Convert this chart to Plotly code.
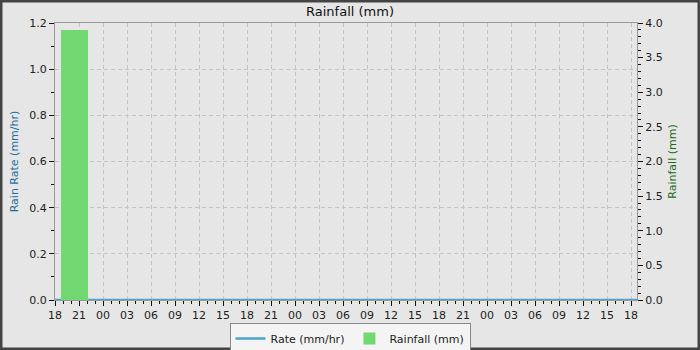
import plotly.graph_objects as go

# ---- data ----
rate_times = ["2024-01-01 18:00", "2024-01-04 18:45"]
rate_values = [0.0, 0.0]

rain_times = ["2024-01-01 20:26"]
rain_values = [3.9]
rain_width_hours = 3.375

x_start = "2024-01-01 18:00"
x_end = "2024-01-04 18:45"

W, H = 700, 350
ml, mr, mt, mb = 55, 63, 23, 50
pw = W - ml - mr
ph = H - mt - mb

font = "DejaVu Sans"

fig = go.Figure()
fig.add_trace(go.Bar(
    x=rain_times, y=rain_values, yaxis="y2", name="Rainfall (mm)",
    width=[rain_width_hours * 3600 * 1000],
    marker=dict(color="#72d872", line=dict(width=0)),
))
fig.add_trace(go.Scatter(
    x=rate_times, y=rate_values, mode="lines", name="Rate (mm/hr)",
    line=dict(color="#4ba3d6", width=2.5), cliponaxis=False,
))

tickfont = dict(family=font, size=11, color="#222")
grid_dash = "4px,3px"
fig.update_layout(
    width=W, height=H,
    margin=dict(l=ml, r=mr, t=mt, b=mb, autoexpand=False),
    paper_bgcolor="#e6e6e6", plot_bgcolor="#e6e6e6",
    font=dict(family=font, size=11, color="#222"),
    title=dict(text="Rainfall (mm)", x=0.5, xanchor="center", y=1 - 11 / H, yanchor="middle",
               font=dict(family=font, size=13, color="#111")),
    showlegend=True,
    legend=dict(orientation="h", x=0.5, xanchor="center", xref="container",
                y=(H - 323) / H, yanchor="top", yref="container",
                bgcolor="#f4f4f4", bordercolor="#888", borderwidth=1, itemwidth=30,
                font=dict(family=font, size=11, color="#222"), traceorder="reversed"),
    bargap=0,
    xaxis=dict(
        type="date", range=[x_start, x_end], dtick=3 * 3600 * 1000,
        tick0="2024-01-01 18:00", tickformat="%H", ticks="outside", ticklen=5,
        tickcolor="#111", tickfont=tickfont,
        showline=True, linecolor="#999", linewidth=1, mirror=True,
        showgrid=True, gridcolor="#c4c4c4", griddash=grid_dash, gridwidth=1,
        minor=dict(dtick=3600 * 1000, ticks="outside", ticklen=3, tickcolor="#111", showgrid=False),
        zeroline=False,
    ),
    yaxis=dict(
        range=[0, 1.2], dtick=0.2, tickformat=".1f", ticks="outside", ticklen=5,
        tickcolor="#111", tickfont=tickfont,
        showline=True, linecolor="#999", linewidth=1, mirror=True,
        showgrid=True, gridcolor="#c4c4c4", griddash=grid_dash, gridwidth=1,
        minor=dict(dtick=0.1, ticks="outside", ticklen=3, tickcolor="#111", showgrid=False),
        zeroline=False,
        title=dict(text="Rain Rate (mm/hr)", font=dict(family=font, size=11, color="#1f6e9e"), standoff=8),
    ),
    yaxis2=dict(
        range=[0, 4.0], dtick=0.5, tickformat=".1f", ticks="outside", ticklen=5,
        tickcolor="#111", tickfont=tickfont, overlaying="y", side="right",
        showgrid=False, zeroline=False, showline=False,
        minor=dict(dtick=0.1, ticks="outside", ticklen=3, tickcolor="#111"),
        title=dict(text="Rainfall (mm)", font=dict(family=font, size=11, color="#1c6b1c"), standoff=6),
    ),
)

# outer dark border around the whole image
fig.add_shape(type="rect", xref="paper", yref="paper",
              x0=-(ml - 1) / pw, x1=1 + (mr - 1) / pw, y0=-(mb - 1) / ph, y1=1 + (mt - 1) / ph,
              line=dict(color="#444", width=3), fillcolor="rgba(0,0,0,0)", layer="above")

fig.write_html("out.html")
